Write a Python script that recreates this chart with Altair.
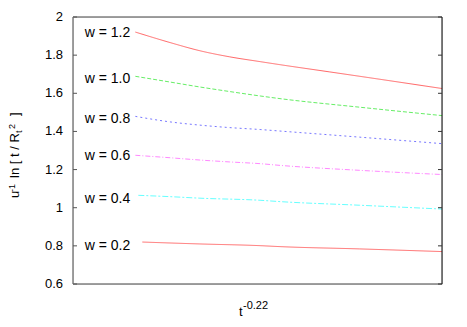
import altair as alt
import pandas as pd

# --- data ---
series_names = ["w = 1.2", "w = 1.0", "w = 0.8", "w = 0.6", "w = 0.4", "w = 0.2"]
x_w12 = [0.169, 0.263, 0.344, 0.425, 0.507, 0.561, 0.696, 0.823, 1.0]
y_w12 = [1.921, 1.866, 1.823, 1.791, 1.766, 1.750, 1.712, 1.676, 1.625]
x_w10 = [0.169, 0.263, 0.344, 0.425, 0.507, 0.561, 0.777, 1.0]
y_w10 = [1.689, 1.659, 1.633, 1.609, 1.586, 1.572, 1.527, 1.483]
x_w08 = [0.169, 0.263, 0.344, 0.425, 0.507, 0.561, 0.777, 1.0]
y_w08 = [1.479, 1.450, 1.433, 1.420, 1.410, 1.402, 1.370, 1.336]
x_w06 = [0.169, 0.263, 0.344, 0.425, 0.507, 0.561, 0.777, 1.0]
y_w06 = [1.275, 1.262, 1.250, 1.240, 1.231, 1.222, 1.196, 1.174]
x_w04 = [0.177, 0.263, 0.344, 0.507, 0.561, 0.777, 1.0]
y_w04 = [1.065, 1.058, 1.050, 1.039, 1.032, 1.013, 0.993]
x_w02 = [0.188, 0.344, 0.507, 0.561, 0.777, 1.0]
y_w02 = [0.820, 0.810, 0.801, 0.796, 0.784, 0.770]

label_y = [1.916, 1.673, 1.467, 1.271, 1.044, 0.800]
label_x = 0.155
y_ticks = [0.6, 0.8, 1.0, 1.2, 1.4, 1.6, 1.8, 2.0]
y_tick_labels = ["0.6", "0.8", "1", "1.2", "1.4", "1.6", "1.8", "2"]

colors = ["#ff6666", "#66ee66", "#7777ff", "#ff88ff", "#66ffff", "#ff6666"]
dashes = [[1, 0], [4, 2], [2, 3], [5, 2, 1, 2], [6, 2, 2, 2], [1, 0]]

xs = [x_w12, x_w10, x_w08, x_w06, x_w04, x_w02]
ys = [y_w12, y_w10, y_w08, y_w06, y_w04, y_w02]
rows = []
for name, xv, yv in zip(series_names, xs, ys):
    for a, b in zip(xv, yv):
        rows.append({"series": name, "x": a, "y": b})
df = pd.DataFrame(rows)
labels_df = pd.DataFrame({"series": series_names, "y": label_y, "x": [label_x] * 6})
ticks_df = pd.DataFrame({"y": y_ticks, "lab": y_tick_labels})
one_df = pd.DataFrame({"k": [0]})

W, H = 369, 267
FONT = "Liberation Sans"
TICK = 4.0 / W

xscale = alt.Scale(domain=[0, 1])
yscale = alt.Scale(domain=[0.6, 2.0], nice=False, zero=False)
yaxis = alt.Axis(labels=False, ticks=False, domain=False, grid=False, title=None)

lines = alt.Chart(df).mark_line(strokeWidth=1, interpolate="monotone").encode(
    x=alt.X("x:Q", scale=xscale, axis=None),
    y=alt.Y("y:Q", scale=yscale, axis=yaxis),
    color=alt.Color("series:N", scale=alt.Scale(domain=series_names, range=colors), legend=None),
    strokeDash=alt.StrokeDash("series:N", scale=alt.Scale(domain=series_names, range=dashes), legend=None),
    detail="series:N",
)

labels = alt.Chart(labels_df).mark_text(align="right", baseline="middle", fontSize=14, font=FONT, color="black").encode(
    x=alt.X("x:Q", scale=xscale, axis=None),
    y=alt.Y("y:Q", scale=yscale, axis=yaxis),
    text="series:N",
)

ylabels = alt.Chart(ticks_df).mark_text(align="right", baseline="middle", fontSize=13, font=FONT, color="black").encode(
    x=alt.value(-10),
    y=alt.Y("y:Q", scale=yscale, axis=yaxis),
    text="lab:N",
)

lticks = alt.Chart(ticks_df).mark_rule(color="#555555", strokeWidth=1).encode(
    y=alt.Y("y:Q", scale=yscale, axis=yaxis),
    x=alt.datum(0, scale=xscale), x2=alt.datum(TICK))
rticks = alt.Chart(ticks_df).mark_rule(color="#333333", strokeWidth=1).encode(
    y=alt.Y("y:Q", scale=yscale, axis=yaxis),
    x=alt.datum(1 - TICK, scale=xscale), x2=alt.datum(1))

def hrule(yv, color, sw):
    return alt.Chart(one_df).mark_rule(color=color, strokeWidth=sw).encode(
        x=alt.datum(0, scale=xscale), x2=alt.datum(1), y=alt.datum(yv, scale=yscale))

def vrule(xv, color, sw):
    return alt.Chart(one_df).mark_rule(color=color, strokeWidth=sw).encode(
        x=alt.value(xv), y=alt.value(0), y2=alt.value(H))

frame = [hrule(2.0, "#808080", 1.5), hrule(0.6, "#808080", 1.5), vrule(0, "#808080", 1.5), vrule(W, "black", 1)]

# x title: t^-0.22
xt_main = alt.Chart(one_df).mark_text(text="t", align="left", baseline="alphabetic", fontSize=13, font=FONT, color="black").encode(
    x=alt.value(166), y=alt.value(299))
xt_sup = alt.Chart(one_df).mark_text(text="-0.22", align="left", baseline="alphabetic", fontSize=11, font=FONT, color="black").encode(
    x=alt.value(170), y=alt.value(292))

# y title: u^-1 ln [ t / R_t^2 ]
def vtext(txt, x, y, size):
    return alt.Chart(one_df).mark_text(text=txt, align="left", baseline="middle", angle=270,
                                       fontSize=size, font=FONT, color="black").encode(
        x=alt.value(x), y=alt.value(y))

yt = [
    vtext("u", -58, 181, 13),
    vtext("-1", -61, 175, 9),
    vtext("ln [ t / R", -58, 161, 13),
    vtext("t", -54, 116, 9),
    vtext("2", -61, 112, 9),
    vtext("]", -58, 99, 13),
]

chart = alt.layer(lines, labels, ylabels, *frame, lticks, rticks, xt_main, xt_sup, *yt).properties(
    width=W, height=H,
    autosize=alt.AutoSizeParams(type="none"),
    padding={"left": 65, "top": 9, "right": 17, "bottom": 35},
).configure_view(strokeWidth=0).configure(background="white")

chart.save("out.html", embed_options={"renderer": "svg", "actions": False})
